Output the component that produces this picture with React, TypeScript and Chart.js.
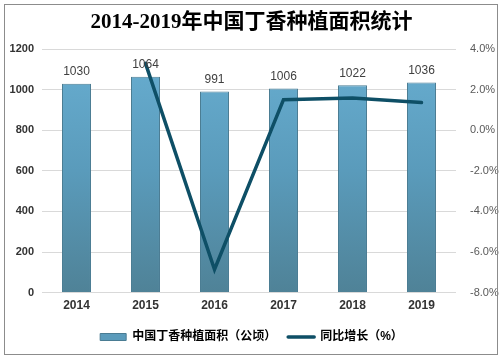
import React, { useEffect, useRef } from "react";
import { Chart, registerables } from "chart.js";

Chart.register(...registerables);

const TITLE = "2014-2019年中国丁香种植面积统计";
const YEARS = ["2014", "2015", "2016", "2017", "2018", "2019"];
const AREA = [1030, 1064, 991, 1006, 1022, 1036];
const GROWTH = [null, 3.3, -6.86, 1.51, 1.59, 1.37];
const AREA_LABEL = "中国丁香种植面积（公顷）";
const GROWTH_LABEL = "同比增长（%）";

const FONT = "'Liberation Sans', Arial, 'Noto Sans CJK SC', sans-serif";

const barLabels = {
  id: "barLabels",
  afterDatasetsDraw(chart: any) {
    const { ctx } = chart;
    const meta = chart.getDatasetMeta(1);
    ctx.save();
    ctx.font = `12px ${FONT}`;
    ctx.fillStyle = "#404040";
    ctx.textAlign = "center";
    ctx.textBaseline = "bottom";
    meta.data.forEach((el: any, i: number) => {
      ctx.fillText(String(AREA[i]), el.x, el.y - 6);
    });
    ctx.restore();
  },
};

export default function App() {
  const ref = useRef<HTMLCanvasElement>(null);
  useEffect(() => {
    document.body.style.margin = "0";
    const canvas = ref.current!;
    const chart = new Chart(canvas, {
      type: "bar",
      data: {
        labels: YEARS,
        datasets: [
          {
            type: "line",
            label: GROWTH_LABEL,
            data: GROWTH as any,
            yAxisID: "y1",
            borderColor: "#0e4f66",
            backgroundColor: "#0e4f66",
            borderWidth: 3.5,
            pointRadius: 0,
            tension: 0,
            order: 0,
            borderCapStyle: "round",
            borderJoinStyle: "miter",
          } as any,
          {
            type: "bar",
            label: AREA_LABEL,
            data: AREA,
            yAxisID: "y",
            backgroundColor: (c: any) => {
              const area = c.chart.chartArea;
              if (!area) return "#5b9bbb";
              const g = c.chart.ctx.createLinearGradient(0, area.top, 0, area.bottom);
              g.addColorStop(0, "#68aed1");
              g.addColorStop(0.5, "#5a9bbb");
              g.addColorStop(1, "#4f8297");
              return g;
            },
            borderColor: "#4a7c93",
            borderWidth: 1,
            barPercentage: 0.42,
            categoryPercentage: 1,
            order: 1,
          } as any,
        ],
      },
      options: {
        animation: false,
        responsive: false,
        maintainAspectRatio: false,
        layout: { padding: { left: 0, right: 0, top: 2, bottom: 6 } },
        plugins: {
          title: {
            display: true,
            text: TITLE,
            color: "#000",
            font: { family: "'Liberation Serif', 'Noto Sans CJK SC', serif", size: 21, weight: "bold" },
            padding: { top: 8, bottom: 14 },
          },
          legend: {
            position: "bottom",
            labels: {
              usePointStyle: true,
              pointStyleWidth: 26,
              boxHeight: 7,
              padding: 12,
              color: "#404040",
              font: { family: FONT, size: 12, weight: "bold" },
              generateLabels: () => [
                {
                  text: AREA_LABEL,
                  fillStyle: "#5b9bbb",
                  strokeStyle: "#4a7c93",
                  lineWidth: 1,
                  pointStyle: "rect",
                  datasetIndex: 1,
                  hidden: false,
                },
                {
                  text: GROWTH_LABEL,
                  fillStyle: "#0e4f66",
                  strokeStyle: "#0e4f66",
                  lineWidth: 3.5,
                  lineCap: "round",
                  pointStyle: "line",
                  datasetIndex: 0,
                  hidden: false,
                },
              ],
            },
          },
          tooltip: { enabled: false },
        },
        scales: {
          x: {
            grid: { display: false, drawTicks: false },
            border: { display: false },
            ticks: { color: "#333", font: { family: FONT, size: 12, weight: "bold" }, padding: 6 },
          },
          y: {
            position: "left",
            min: 0,
            max: 1200,
            ticks: {
              stepSize: 200,
              color: "#333",
              font: { family: FONT, size: 11, weight: "bold" },
              padding: 8,
              callback: (v: any) => String(v),
            },
            grid: { color: "#d9d9d9", drawTicks: false },
            border: { display: false },
            afterFit: (s: any) => { s.width = 42; },
          },
          y1: {
            position: "right",
            min: -8,
            max: 4,
            ticks: {
              stepSize: 2,
              color: "#595959",
              font: { family: FONT, size: 11 },
              padding: 6,
              callback: (v: any) => Number(v).toFixed(1) + "%",
            },
            grid: { display: false },
            border: { display: false },
            afterFit: (s: any) => { s.width = 47; },
          },
        },
      },
      plugins: [barLabels],
    });
    return () => chart.destroy();
  }, []);
  return (
    <div style={{ position: "relative", width: 503, height: 359, background: "#fff" }}>
      <canvas ref={ref} width={503} height={359} style={{ display: "block" }} />
      <div
        style={{
          position: "absolute",
          left: 4,
          top: 4,
          width: 494,
          height: 351,
          border: "1px solid #8c8c8c",
          pointerEvents: "none",
          boxSizing: "border-box",
        }}
      />
    </div>
  );
}
